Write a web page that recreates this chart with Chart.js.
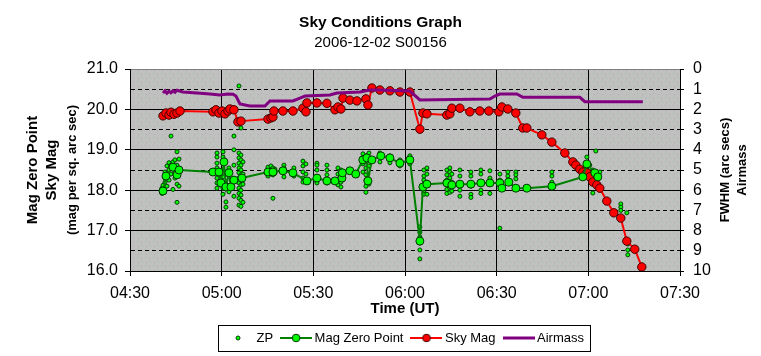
<!DOCTYPE html>
<html><head><meta charset="utf-8">
<script src="https://cdn.jsdelivr.net/npm/chart.js@4.4.1/dist/chart.umd.min.js"></script>
<style>html,body{margin:0;padding:0;background:#fff}</style>
</head><body>
<canvas id="c" width="761" height="356"></canvas>
<script>
// ---------- DATA ----------
const chartTitle = 'Sky Conditions Graph';
const chartSubtitle = '2006-12-02 S00156';
const xAxisTitle = 'Time (UT)';
const leftAxisTitle = ['Mag Zero Point', 'Sky Mag', '(mag per sq. arc sec)'];
const rightAxisTitle = ['FWHM (arc secs)', 'Airmass'];
const seriesNames = ['ZP', 'Mag Zero Point', 'Sky Mag', 'Airmass'];
const xTickLabels = ['04:30', '05:00', '05:30', '06:00', '06:30', '07:00', '07:30'];
const leftTickRange = [16, 21];
const rightTickRange = [0, 10];

const skyTimes = ['04:40:48','04:41:47','04:42:46','04:43:25','04:44:24','04:45:23','04:46:22',
  '04:57:09','04:58:08','04:59:07','05:00:06','05:01:05','05:02:04','05:02:43','05:04:01',
  '05:05:20','05:06:19','05:15:09','05:16:08','05:16:47','05:17:06','05:20:03','05:23:20',
  '05:26:36','05:27:35','05:27:54','05:31:11','05:34:27','05:37:04','05:38:03','05:39:02',
  '05:39:42','05:41:58','05:44:16','05:47:12','05:47:52','05:49:10','05:51:47','05:55:04',
  '05:58:20','06:01:36','06:04:52','06:05:51','06:07:10','06:13:42','06:14:41','06:15:20',
  '06:17:58','06:21:14','06:24:30','06:27:27','06:30:43','06:31:42','06:33:39','06:36:16',
  '06:38:33','06:39:52','06:44:47','06:48:03','06:52:18','06:54:56','06:55:54','06:57:13',
  '06:58:12','06:59:30','07:00:29','07:01:28','07:02:46','07:03:45','07:06:03','07:08:20',
  '07:10:37','07:12:35','07:15:12','07:17:30'];
const skyMag = [19.84,19.91,19.86,19.93,19.88,19.91,19.96,
  19.94,19.99,19.91,19.96,19.89,19.96,20.01,19.99,
  19.69,19.71,19.76,19.79,19.81,19.96,19.96,19.96,
  20.03,19.94,20.16,20.16,20.15,19.99,20.06,20.01,
  20.28,20.23,20.21,20.26,20.11,20.53,20.48,20.46,
  20.43,20.43,19.51,19.91,19.89,19.86,19.89,20.03,
  20.03,19.94,19.96,19.96,19.94,20.06,20.01,19.91,
  19.54,19.54,19.37,19.19,18.92,18.70,18.62,18.52,
  18.45,18.43,18.33,18.20,18.13,18.05,17.73,17.44,
  17.31,16.74,16.54,16.10];

const mzpTimes = ['04:40:48','04:41:47','04:44:04','04:45:23','04:46:02','04:57:09','04:59:07',
  '04:59:46','05:00:45','05:01:24','05:02:23','05:03:02','05:04:01','05:06:38','05:15:09',
  '05:16:47','05:20:03','05:23:20','05:27:54','05:31:11','05:34:27','05:37:04','05:39:22',
  '05:39:30','05:41:58','05:43:53','05:46:12','05:47:30','05:47:52','05:49:10','05:52:06',
  '05:55:04','05:58:20','06:01:36','06:04:52','06:05:51','06:07:10','06:13:42','06:15:20',
  '06:17:58','06:21:34','06:24:50','06:27:47','06:31:03','06:31:42','06:34:00','06:36:17',
  '06:39:52','06:48:04','06:58:12','06:59:31','07:02:07','07:03:07'];
const mzpMag = [17.98,18.35,18.57,18.38,18.50,18.45,18.45,
  18.18,18.70,18.08,18.43,18.08,18.25,18.30,18.45,
  18.45,18.48,18.43,18.23,18.30,18.23,18.23,18.30,
  18.43,18.48,18.40,18.75,18.80,18.23,18.75,18.85,
  18.80,18.67,18.75,16.74,18.08,18.15,18.18,18.13,
  18.15,18.15,18.18,18.18,18.18,18.05,18.20,18.05,
  18.05,18.10,18.33,18.65,18.43,18.33];

const zpTimes = ['04:40:28','04:40:48','04:41:27','04:42:06','04:42:46','04:43:25','04:44:04',
  '04:44:43','04:45:23','04:46:02','04:58:28','05:00:26','05:01:24','05:02:23','05:04:01',
  '05:05:40','05:06:19','05:06:58','05:15:09','05:16:08','05:16:47','05:17:26','05:20:23',
  '05:23:39','05:26:36','05:27:35','05:31:11','05:34:27','05:38:03','05:39:02','05:39:41',
  '05:46:14','05:47:13','05:48:11','05:51:47','05:55:04','05:58:20','06:01:36','06:04:52',
  '06:06:11','06:07:10','06:13:42','06:14:41','06:15:20','06:17:58','06:21:34','06:24:50',
  '06:27:47','06:31:03','06:33:40','06:36:17','06:48:04','06:59:31','07:00:29','07:01:28',
  '07:02:27','07:03:46','07:10:38','07:12:35','07:12:55'];
const zpMag = [[18.05,17.92],[18.12],[18.20,18.45,18.30],[18.35,18.60,18.10],[18.50,18.25,18.68],
  [18.62,18.40,19.34],[18.70,18.55,18.02],[18.45,18.30,18.75],[18.95,17.70,18.62,18.15],[18.77,18.55,18.10],
  [18.92,18.82,18.67,18.55,18.43,18.30,18.18,18.05],[18.95,18.82,18.67,18.50,18.33,18.18,18.05,17.90],
  [18.40,17.71,17.58],[18.55,18.08,17.96],[19.34,19.00,18.62,17.85],
  [20.58,18.92,18.80,18.67,18.55,18.43,18.30,18.18,18.05,17.92,17.80,17.63],
  [19.54,18.87,18.75,18.62,18.50,18.38,18.25,18.13,18.00,17.88,17.75,17.60],
  [18.70,18.40,18.15,17.70],[18.57,18.45,18.35],[18.60,18.50,18.40],[18.55,18.38,17.80],[18.52,18.42],
  [18.62,18.55,18.33],[18.55,18.35],[18.72,18.60,18.45,18.30,18.20],[18.65,18.40,18.25],
  [18.67,18.62,18.50,18.33,18.18],[18.62,18.50,18.38,18.18],[18.55,18.40,18.25,18.13],
  [18.50,18.35,18.20,18.08],[18.45,18.30],[18.90,18.80,18.65,18.45],
  [18.85,18.70,18.55,18.38,18.25,18.10,17.95],[18.92,18.60,18.15],[18.92,18.70],[18.85,18.68],
  [18.75,18.60],[18.85,18.65],[17.09,16.96,16.84,16.69,16.52,16.30],
  [18.50,18.35,18.25,18.15,18.05,17.95,17.90],[18.55,18.40,18.20,17.90],
  [18.50,18.38,18.25,18.13,18.02,17.92],[18.55,18.45,18.30,18.18,18.05,17.95],[18.40,18.20,17.98],
  [18.50,18.35,18.15,18.00,17.85],[18.45,18.35,18.10,17.90,17.82],[18.50,18.40,18.15,18.00,17.92],
  [18.48,18.30,17.92],[18.40,18.25,17.06],[18.45,18.35,18.25],[18.45,18.38,18.28],[18.45,18.35,18.20],
  [18.82,18.55],[18.62,18.45,18.28],[18.50,18.35,18.20,17.93],[18.97,18.40,18.25],[18.45],
  [17.66,17.58,17.50],[17.44],[16.67,16.52,16.40]];

const airTimes = ['04:40:48','04:41:27','04:42:06','04:42:46','04:43:25','04:44:04','04:44:43',
  '04:45:23','04:47:20','04:51:55','04:56:10','04:59:27','05:02:04','05:03:42','05:04:41',
  '05:05:59','05:09:15','05:14:10','05:15:48','05:23:20','05:25:37','05:27:15','05:35:26',
  '05:37:43','05:45:15','05:48:31','05:51:47','06:01:36','06:04:52','06:27:47','06:29:25',
  '06:31:03','06:36:36','06:38:34','06:57:13','06:58:52','07:17:50'];
const airmass = [1.19,1.08,1.20,1.10,1.18,1.08,1.15,
  1.05,1.14,1.19,1.24,1.29,1.24,1.25,1.34,
  1.73,1.83,1.83,1.58,1.58,1.44,1.34,1.29,
  1.19,1.14,1.04,1.04,1.09,1.53,1.49,1.34,
  1.24,1.24,1.40,1.40,1.62,1.62];

// ---------- helpers ----------
const FONT = "'Liberation Sans', Arial, sans-serif";
const toMin = s => { const p = s.split(':').map(Number); return p[0]*60 + p[1] + (p[2]||0)/60; };
const fmtTime = m => { const h = Math.floor(m/60), mm = Math.round(m - h*60); return String(h).padStart(2,'0') + ':' + String(mm).padStart(2,'0'); };
const pairs = (t, v) => t.map((s, i) => ({x: toMin(s), y: v[i]}));
const zpPoints = [];
zpTimes.forEach((s, i) => zpMag[i].forEach(v => zpPoints.push({x: toMin(s), y: v})));

const xMin = toMin(xTickLabels[0]), xMax = toMin(xTickLabels[xTickLabels.length-1]);

// plot-area pattern (Excel dotted fill)
function makePattern() {
  const c = document.createElement('canvas'); c.width = 8; c.height = 8;
  const g = c.getContext('2d');
  g.fillStyle = '#c0c0c0'; g.fillRect(0,0,8,8);
  g.fillStyle = '#98c498'; g.fillRect(1,1,1,1); g.fillRect(5,5,1,1);
  g.fillStyle = '#acacac'; g.fillRect(5,2,1,1); g.fillRect(2,6,1,1);
  return g.createPattern(c, 'repeat');
}
function icon(kind) {
  const c = document.createElement('canvas'); c.width = 32; c.height = 12;
  const g = c.getContext('2d');
  const line = (col, w) => { g.strokeStyle = col; g.lineWidth = w; g.beginPath(); g.moveTo(0,6); g.lineTo(32,6); g.stroke(); };
  const dot = (r, fill, stroke) => { g.fillStyle = fill; g.strokeStyle = stroke; g.lineWidth = 1; g.beginPath(); g.arc(16,6,r,0,Math.PI*2); g.fill(); g.stroke(); };
  if (kind === 0) dot(2, '#00ff00', '#004000');
  if (kind === 1) { line('#008000', 2); dot(3.8, '#00ff00', '#003000'); }
  if (kind === 2) { line('#ff0000', 2); dot(3.8, '#ff0000', '#400000'); }
  if (kind === 3) line('#800080', 3);
  return c;
}
const legendIcons = [0,1,2,3].map(icon);

const plotBg = {
  id: 'plotBg',
  beforeDraw(chart) {
    const {ctx, chartArea: a} = chart;
    ctx.save(); ctx.fillStyle = makePattern(); ctx.fillRect(a.left, a.top, a.width, a.height); ctx.restore();
  }
};
const sideTitles = {
  id: 'sideTitles',
  afterDraw(chart) {
    const {ctx, chartArea: a} = chart;
    const cy = (a.top + a.bottom) / 2;
    const put = (text, x, font) => {
      ctx.save(); ctx.translate(x, cy); ctx.rotate(-Math.PI/2);
      ctx.font = font; ctx.fillStyle = '#000'; ctx.textAlign = 'center'; ctx.textBaseline = 'middle';
      ctx.fillText(text, 0, 0); ctx.restore();
    };
    put(leftAxisTitle[0], 33, 'bold 15px ' + FONT);
    put(leftAxisTitle[1], 52, 'bold 15px ' + FONT);
    put(leftAxisTitle[2], 72, 'bold 13px ' + FONT);
    put(rightAxisTitle[0], 725, 'bold 13px ' + FONT);
    put(rightAxisTitle[1], 742, 'bold 13px ' + FONT);
  }
};
const legendFrame = {
  id: 'legendFrame',
  afterDraw(chart) {
    const hb = chart.legend && chart.legend.legendHitBoxes;
    if (!hb || !hb.length) return;
    const last = hb[hb.length-1];
    const l = Math.round(hb[0].left - 8), r = Math.round(last.left + last.width + 6);
    const cy = hb[0].top + hb[0].height/2;
    const t = Math.round(cy - 13);
    const ctx = chart.ctx;
    ctx.save(); ctx.strokeStyle = '#000'; ctx.lineWidth = 1;
    ctx.strokeRect(l + 0.5, t + 0.5, r - l, 26); ctx.restore();
  }
};

new Chart(document.getElementById('c'), {
  type: 'line',
  data: {
    datasets: [
      { label: seriesNames[0], data: zpPoints, showLine: false, order: 3,
        pointRadius: 2, pointBackgroundColor: '#00ff00', pointBorderColor: '#004000', pointBorderWidth: 1, yAxisID: 'y' },
      { label: seriesNames[1], data: pairs(mzpTimes, mzpMag), order: 1, borderColor: '#008000', borderWidth: 2,
        pointRadius: 4, pointBackgroundColor: '#00ff00', pointBorderColor: '#003000', pointBorderWidth: 1, yAxisID: 'y' },
      { label: seriesNames[2], data: pairs(skyTimes, skyMag), order: 2, borderColor: '#ff0000', borderWidth: 2,
        pointRadius: 4.2, pointBackgroundColor: '#ff0000', pointBorderColor: '#400000', pointBorderWidth: 1, yAxisID: 'y' },
      { label: seriesNames[3], data: pairs(airTimes, airmass), order: 0, borderColor: '#800080', borderWidth: 3,
        pointRadius: 0, yAxisID: 'y2' }
    ]
  },
  options: {
    responsive: false, animation: false, events: [],
    layout: { padding: { top: 0, left: 0, right: 0, bottom: 1.5 } },
    elements: { line: { tension: 0 } },
    plugins: {
      tooltip: { enabled: false },
      title: { display: true, text: chartTitle, color: '#000',
        font: { family: FONT, size: 15.5, weight: 'bold', lineHeight: 1.2 }, padding: { top: 13.2, bottom: 1.8 } },
      subtitle: { display: true, text: chartSubtitle, color: '#000',
        font: { family: FONT, size: 15, weight: 'normal', lineHeight: 1.2 }, padding: { top: 0, bottom: 17.4 } },
      legend: {
        position: 'bottom', fullSize: false,
        labels: {
          usePointStyle: true, pointStyleWidth: 24, padding: 11, color: '#000',
          font: { family: FONT, size: 13 },
          generateLabels: chart => chart.data.datasets.map((ds, i) => ({
            text: ds.label, pointStyle: legendIcons[i], fillStyle: 'rgba(0,0,0,0)', strokeStyle: 'rgba(0,0,0,0)',
            lineWidth: 0, hidden: false, datasetIndex: i, fontColor: '#000'
          }))
        }
      }
    },
    scales: {
      x: {
        type: 'linear', position: 'bottom', min: xMin, max: xMax,
        afterFit: s => { s.height = 49.5; },
        ticks: { stepSize: 30, autoSkip: false, maxRotation: 0, padding: 8, color: '#000',
          font: { family: FONT, size: 16 },
          callback: v => { const lab = fmtTime(v); return xTickLabels.includes(lab) ? lab : ''; } },
        grid: { color: '#000', lineWidth: 1, tickLength: 5, tickColor: '#000' },
        border: { color: '#000', width: 1 },
        title: { display: true, text: xAxisTitle, color: '#000',
          font: { family: FONT, size: 15, weight: 'bold', lineHeight: 1.2 }, padding: { top: 0, bottom: 2.5 } }
      },
      y: {
        type: 'linear', position: 'left', min: leftTickRange[0], max: leftTickRange[1],
        afterFit: s => { s.width = 130; },
        ticks: { stepSize: 0.5, autoSkip: false, padding: 7, color: '#000', font: { family: FONT, size: 16 },
          callback: v => Number.isInteger(v) ? v.toFixed(1) : '' },
        grid: { lineWidth: 1, tickLength: 5,
          color: c => (c.tick && c.tick.value === leftTickRange[1]) ? '#808080' : '#000',
          tickColor: c => (c.tick && Number.isInteger(c.tick.value)) ? '#000' : 'rgba(0,0,0,0)' },
        border: { color: '#000', width: 1,
          dash: c => (c.tick && !Number.isInteger(c.tick.value)) ? [4, 3] : [] }
      },
      y2: {
        type: 'linear', position: 'right', min: rightTickRange[0], max: rightTickRange[1], reverse: true,
        afterFit: s => { s.width = 81; },
        ticks: { stepSize: 1, autoSkip: false, padding: 9, color: '#000', font: { family: FONT, size: 16 } },
        grid: { drawOnChartArea: false, tickLength: 4, color: '#000' },
        border: { color: '#000', width: 1 }
      }
    }
  },
  plugins: [plotBg, sideTitles, legendFrame]
});
</script>
</body></html>
